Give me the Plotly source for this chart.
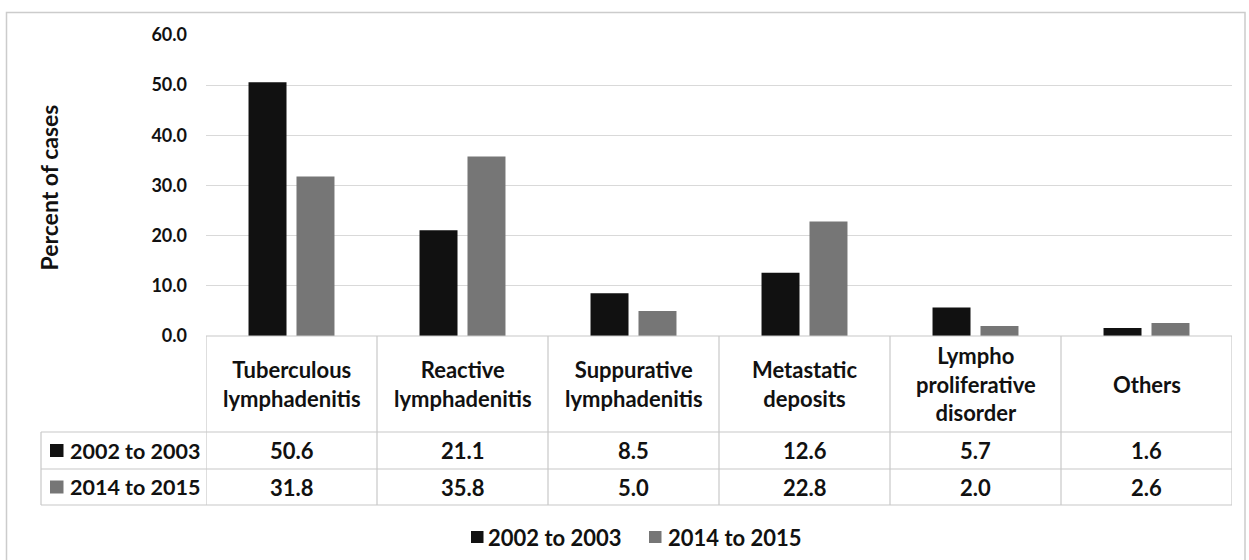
import plotly.graph_objects as go

# Lymph node diagnoses: share of cases in each period
categories = [
    "Tuberculous<br>lymphadenitis",
    "Reactive<br>lymphadenitis",
    "Suppurative<br>lymphadenitis",
    "Metastatic<br>deposits",
    "Lympho<br>proliferative<br>disorder",
    "Others",
]
series_names = ["2002 to 2003", "2014 to 2015"]
values_2002_2003 = [50.6, 21.1, 8.5, 12.6, 5.7, 1.6]
values_2014_2015 = [31.8, 35.8, 5.0, 22.8, 2.0, 2.6]
y_ticks = [0, 10, 20, 30, 40, 50, 60]

series_values = [values_2002_2003, values_2014_2015]
series_colors = ["#111111", "#767676"]

W, H = 1249, 560
FONT = "Lato"
INK = "#111111"
TABLE_LINE = "#c8c8c8"
GRID = "#d9d9d9"


def px_x(x):
    return x / W


def px_y(y):
    return 1 - y / H


# pixel layout of the plot area and data table
plot_left, plot_right = 206, 1232
plot_top, plot_bottom = 35, 336
header_bottom = 432
row_bottoms = [469, 505]
key_left = 41
legend_y = 537
legend_items = [(471, 488), (649, 668)]  # (key square left, label left)

fig = go.Figure()
x_idx = list(range(len(categories)))
for name, vals, color in zip(series_names, series_values, series_colors):
    fig.add_trace(go.Bar(
        x=x_idx, y=vals, name=name, marker=dict(color=color, line=dict(width=0)),
        hoverinfo="y",
    ))

shapes = []
annotations = []

# outer chart border
shapes.append(dict(type="rect", xref="paper", yref="paper",
                   x0=px_x(6.5), x1=px_x(1245), y0=px_y(570), y1=px_y(12.5),
                   line=dict(color="#cccccc", width=1.5), layer="below"))

# table grid: category columns follow the x axis
n = len(categories)
for i in range(n + 1):
    shapes.append(dict(type="line", xref="x", yref="paper",
                       x0=i - 0.5, x1=i - 0.5,
                       y0=px_y(plot_bottom), y1=px_y(row_bottoms[-1]),
                       line=dict(color=TABLE_LINE, width=1.2)))
shapes.append(dict(type="line", xref="x", yref="paper",
                   x0=-0.5, x1=n - 0.5, y0=px_y(plot_bottom), y1=px_y(plot_bottom),
                   line=dict(color=TABLE_LINE, width=1.2)))
for yb in [header_bottom] + row_bottoms:
    shapes.append(dict(type="line", xref="paper", yref="paper",
                       x0=px_x(key_left), x1=px_x(plot_right), y0=px_y(yb), y1=px_y(yb),
                       line=dict(color=TABLE_LINE, width=1.2)))
shapes.append(dict(type="line", xref="paper", yref="paper",
                   x0=px_x(key_left), x1=px_x(key_left),
                   y0=px_y(header_bottom), y1=px_y(row_bottoms[-1]),
                   line=dict(color=TABLE_LINE, width=1.2)))

big_font = dict(family=FONT, size=22, color=INK, weight="bold")
key_font = dict(family=FONT, size=21.5, color=INK, weight="bold")

# category header cells
for i, cat in enumerate(categories):
    annotations.append(dict(xref="x", yref="paper", x=i, y=px_y((plot_bottom + header_bottom) / 2),
                            text=cat, showarrow=False, font=big_font,
                            xanchor="center", yanchor="middle", align="center"))

# value rows with their series key
row_tops = [header_bottom] + row_bottoms[:-1]
for r, (name, vals, color) in enumerate(zip(series_names, series_values, series_colors)):
    yc = (row_tops[r] + row_bottoms[r]) / 2
    for i, v in enumerate(vals):
        annotations.append(dict(xref="x", yref="paper", x=i, y=px_y(yc),
                                text=f"{v:.1f}", showarrow=False, font=big_font,
                                xanchor="center", yanchor="middle"))
    shapes.append(dict(type="rect", xref="paper", yref="paper",
                       x0=px_x(50), x1=px_x(63.5), y0=px_y(yc + 6.5), y1=px_y(yc - 6.5),
                       fillcolor=color, line=dict(width=0)))
    annotations.append(dict(xref="paper", yref="paper", x=px_x(68), y=px_y(yc),
                            text=name, showarrow=False, font=key_font,
                            xanchor="left", yanchor="middle"))

# series legend below the table
for (sq_left, txt_left), name, color in zip(legend_items, series_names, series_colors):
    shapes.append(dict(type="rect", xref="paper", yref="paper",
                       x0=px_x(sq_left), x1=px_x(sq_left + 12.5),
                       y0=px_y(legend_y + 6), y1=px_y(legend_y - 6),
                       fillcolor=color, line=dict(width=0)))
    annotations.append(dict(xref="paper", yref="paper", x=px_x(txt_left - 2), y=px_y(legend_y),
                            text=name, showarrow=False, font=big_font,
                            xanchor="left", yanchor="middle"))

# y axis title
annotations.append(dict(xref="paper", yref="paper", x=px_x(48), y=px_y(187.5),
                        text="Percent of cases", textangle=-90, showarrow=False,
                        font=dict(family=FONT, size=23, color=INK, weight="bold"),
                        xanchor="center", yanchor="middle"))

fig.update_layout(
    width=W, height=H,
    margin=dict(l=0, r=0, t=0, b=0, autoexpand=False),
    paper_bgcolor="white", plot_bgcolor="white",
    barmode="group", bargap=0.439, bargroupgap=0.208,
    xaxis=dict(domain=[px_x(plot_left), px_x(plot_right)], range=[-0.5, n - 0.5],
               showticklabels=False, showgrid=False, zeroline=False, showline=False,
               automargin=False, fixedrange=True),
    yaxis=dict(domain=[px_y(plot_bottom), px_y(plot_top)], range=[0, 60],
               tickvals=y_ticks, ticktext=[f"{t:.1f}" for t in y_ticks],
               showgrid=True, gridcolor=GRID, gridwidth=1.2,
               zeroline=False, showline=False, ticks="", ticklabelstandoff=18,
               tickfont=dict(family=FONT, size=18, color=INK, weight="bold"),
               automargin=False, fixedrange=True),
    shapes=shapes, annotations=annotations,
    showlegend=False,
)

fig.write_html("out.html")
